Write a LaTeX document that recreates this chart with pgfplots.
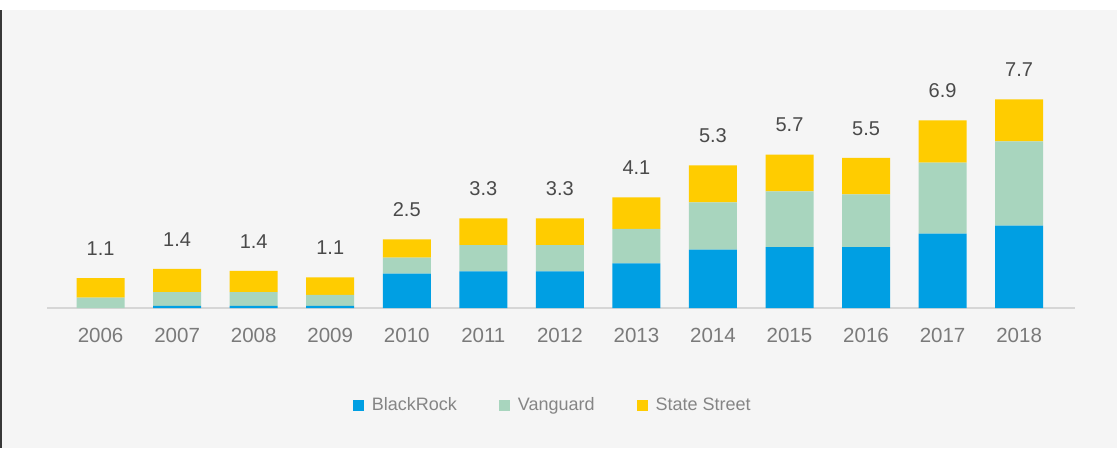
\documentclass[border=0pt]{standalone}
\usepackage{pgfplots}
\pgfplotsset{compat=1.18}
\usepackage{pgfplotstable}
\usepackage{fontspec}
\setmainfont{Liberation Sans}
\definecolor{br}{HTML}{009FE3}
\definecolor{vg}{HTML}{A8D5BE}
\definecolor{ss}{HTML}{FFCC00}
\definecolor{bg}{HTML}{F5F5F5}
\definecolor{linegray}{HTML}{D6D6D6}
\definecolor{tickgray}{HTML}{7A7A7A}
\definecolor{valgray}{HTML}{4A4A4A}
\definecolor{leggray}{HTML}{858585}

\pgfplotstableread{
x br vg ss tot lab
0 0.00 0.38 0.72 1.10 1.1
1 0.08 0.51 0.85 1.44 1.4
2 0.08 0.51 0.78 1.37 1.4
3 0.08 0.40 0.65 1.13 1.1
4 1.27 0.59 0.67 2.53 2.5
5 1.35 0.97 0.99 3.31 3.3
6 1.35 0.97 0.99 3.31 3.3
7 1.65 1.27 1.16 4.08 4.1
8 2.15 1.75 1.36 5.26 5.3
9 2.25 2.05 1.36 5.66 5.7
10 2.25 1.94 1.35 5.54 5.5
11 2.74 2.62 1.56 6.92 6.9
12 3.04 3.11 1.55 7.70 7.7
}\datatable

\begin{document}
\begin{tikzpicture}[x=1pt,y=1pt]
\fill[white] (0,0) rectangle (1117,448);
\fill[bg] (0,0) rectangle (1117,438);
\fill[black!78] (0,0) rectangle (1.5,438);
\begin{axis}[
  at={(47pt,140pt)}, anchor=south west,
  scale only axis, width=1028pt, height=271pt,
  xmin=-0.7, xmax=12.73, ymin=0, ymax=10,
  clip=false,
  ybar stacked, bar width=48pt,
  axis y line=none, axis x line=bottom,
  x axis line style={-, draw=linegray, line width=1.5pt},
  xtick={0,...,12},
  xticklabels={2006,2007,2008,2009,2010,2011,2012,2013,2014,2015,2016,2017,2018},
  major tick length=0pt,
  /pgf/number format/assume math mode=true,
  xticklabel style={font=\fontsize{20.5}{20.5}\selectfont, text=tickgray, anchor=center, yshift=-27pt},
  legend columns=3,
  legend style={draw=none, fill=none, at={(0.492,-0.358)}, anchor=center,
    font=\fontsize{18}{18}\selectfont, text=leggray,
    /tikz/every odd column/.append style={column sep=6pt},
    /tikz/every even column/.append style={column sep=40pt}},
]
\addplot[fill=br, draw=none, legend image code/.code={\fill[br] (0pt,-5.5pt) rectangle (11pt,5.5pt);}] table[x=x,y=br] {\datatable};
\addplot[fill=vg, draw=none, legend image code/.code={\fill[vg] (0pt,-5.5pt) rectangle (11pt,5.5pt);}] table[x=x,y=vg] {\datatable};
\addplot[fill=ss, draw=none, legend image code/.code={\fill[ss] (0pt,-5.5pt) rectangle (11pt,5.5pt);}] table[x=x,y=ss] {\datatable};
\legend{BlackRock,Vanguard,State Street}
\end{axis}
\begin{axis}[
  at={(47pt,140pt)}, anchor=south west,
  scale only axis, width=1028pt, height=271pt,
  xmin=-0.7, xmax=12.73, ymin=0, ymax=10,
  clip=false, hide axis,
]
\addplot[draw=none, mark=none,
  nodes near coords, point meta=explicit symbolic,
  nodes near coords style={font=\fontsize{20}{20}\selectfont, text=valgray, anchor=center, yshift=29.5pt}]
  table[x=x,y=tot,meta=lab] {\datatable};
\end{axis}
\end{tikzpicture}
\end{document}
